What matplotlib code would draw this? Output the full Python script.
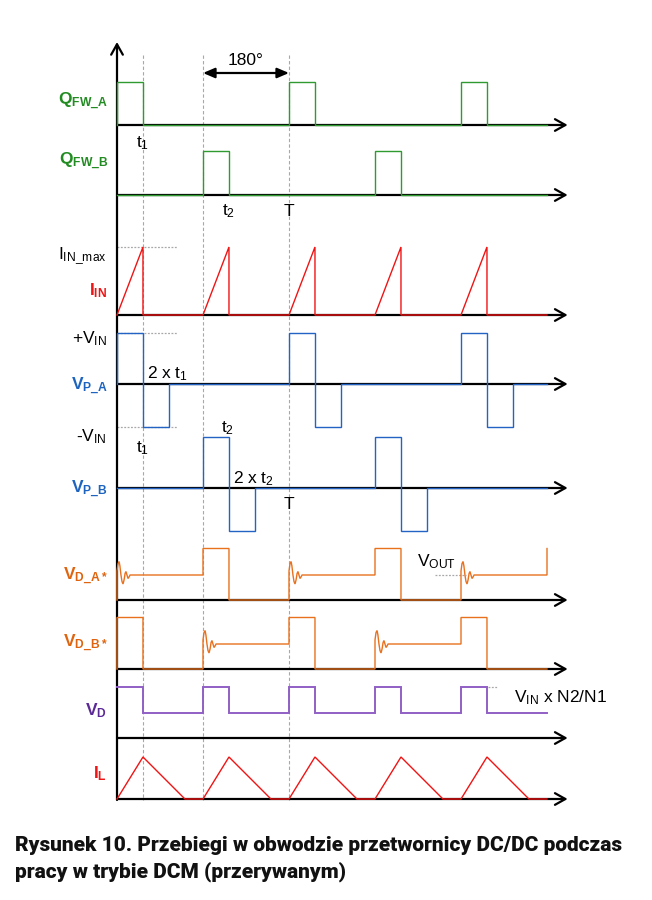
import numpy as np
import matplotlib
matplotlib.use('Agg')
import matplotlib.pyplot as plt

plt.rcParams['mathtext.fontset'] = 'custom'
plt.rcParams['mathtext.rm'] = 'Liberation Sans'
plt.rcParams['mathtext.it'] = 'Liberation Sans'
plt.rcParams['mathtext.bf'] = 'Liberation Sans:bold'
plt.rcParams['font.family'] = ['Liberation Sans', 'DejaVu Sans']

# ---------------- data (time in units of the switching period T) ----------------
t1 = 0.151                       # on-time t1 (= t2)
t_end = 2.5                      # end of drawn waveforms
axis_end = 2.62                  # end of time axes
qa_starts = [0.0, 1.0, 2.0]      # Q_FW_A on
qb_starts = [0.5, 1.5]           # Q_FW_B on
iin_starts = [0.0, 0.5, 1.0, 1.5, 2.0]
il_zero = 0.395                  # I_L returns to zero (relative to pulse start)
vp_pos, vp_neg = 1.0, -0.84      # +VIN / -VIN
vout = 1.0                       # V_OUT level
vd_high = 2.06                   # VIN x N2/N1 (relative to V_OUT)
ring_dt = [0, 0, 0.006, 0.012, 0.017, 0.023, 0.029, 0.035, 0.041, 0.047,
           0.052, 0.058, 0.064, 0.070, 0.076, 0.093]
ring_v = [0, 1.16, 1.46, 1.54, 1.36, 1.00, 0.74, 0.64, 0.80, 1.06,
          1.14, 1.00, 0.86, 0.92, 1.00, 1.00]
vda_events = [(0.0, 'ring'), (0.5, 'pulse'), (1.0, 'ring'), (1.5, 'pulse'),
              (2.0, 'ring'), (2.5, 'pulse')]
vdb_events = [(0.0, 'pulse'), (0.5, 'ring'), (1.0, 'pulse'), (1.5, 'ring'),
              (2.0, 'pulse')]

# ---------------- layout (pixel rows) ----------------
X0, XS = 117, 172   # pixel of t=0, pixels per period

def clip(ts, vs):
    ts = np.array(ts, float); vs = np.array(vs, float)
    m = ts <= t_end + 1e-9
    return ts[m], vs[m]

def pulse_train(starts, width, high):
    ts, vs = [0.0], [0.0]
    for s in starts:
        ts += [s, s, s + width, s + width]
        vs += [0, high, high, 0]
    ts.append(t_end); vs.append(0)
    return clip(ts, vs)

def ramps(starts, width):
    ts, vs = [0.0], [0.0]
    for s in starts:
        ts += [s, s + width, s + width]
        vs += [0, 1, 0]
    ts.append(t_end); vs.append(0)
    return clip(ts, vs)

def bipolar(starts, width):
    ts, vs = [0.0], [0.0]
    for s in starts:
        ts += [s, s, s + width, s + width, s + 2 * width, s + 2 * width]
        vs += [0, vp_pos, vp_pos, vp_neg, vp_neg, 0]
    ts.append(t_end); vs.append(0)
    return clip(ts, vs)

def diode(events):
    ts, vs = [], []
    for i, (s, kind) in enumerate(events):
        nxt = events[i + 1][0] if i + 1 < len(events) else t_end
        if kind == 'ring':
            ts += [s + d for d in ring_dt]; vs += list(ring_v)
            ts.append(nxt); vs.append(vout)
        else:
            ts += [s, s, s + t1, s + t1]
            vs += [vs[-1] if vs else 0, vd_high, vd_high, 0]
            if nxt > s + t1:
                ts.append(nxt); vs.append(0)
    return clip(ts, vs)

def vd_wave(starts):
    ts, vs = [], []
    for s in starts:
        ts += [s, s, s + t1, s + t1]
        vs += [vout, vd_high, vd_high, vout]
    ts.append(t_end); vs.append(vout)
    return np.array(ts[1:]), np.array(vs[1:])

def il_wave(starts):
    ts, vs = [0.0], [0.0]
    for s in starts:
        ts += [s, s + t1, s + il_zero]
        vs += [0, 1, 0]
    ts.append(t_end); vs.append(0)
    return np.array(ts), np.array(vs)

fig = plt.figure(figsize=(6.52, 9.0), dpi=100)
ax = fig.add_axes([0, 0, 1, 1])
ax.set_xlim(-X0 / XS, (652 - X0) / XS)
ax.set_ylim(900, 0)
ax.axis('off')

def px(x):
    return (x - X0) / XS

GREEN = '#2f9a2f'; GREEN_L = '#228b22'
RED = '#f01414'
BLUE = '#2263c4'; BLUE_L = '#1e64bf'
ORANGE = '#e8711e'; ORANGE_L = '#df6410'
PURPLE = '#9060c4'; PURPLE_L = '#5c2a96'
GRAY = '#a8a8a8'

# vertical dashed guides
for tg in [t1, 0.5, 1.0]:
    ax.plot([tg, tg], [55, 800], color=GRAY, lw=0.8, ls=(0, (3, 2)), zorder=1)

# channels: (baseline px, px per unit)
rows = {
    'qa': (125, 43), 'qb': (195, 44), 'iin': (315, 68),
    'vpa': (384, 51), 'vpb': (488, 51), 'vda': (600, 25),
    'vdb': (669, 25), 'vd': (738, 25), 'il': (799, 42),
}

arrow_kw = dict(arrowstyle='->,head_length=0.75,head_width=0.42', lw=1.6,
                color='black', shrinkA=0, shrinkB=0)
for key, (yb, sc) in rows.items():
    ax.annotate('', xy=(axis_end, yb), xytext=(0, yb), arrowprops=arrow_kw, zorder=2)
# vertical axis
ax.annotate('', xy=(0, 42), xytext=(0, 800), arrowprops=arrow_kw, zorder=2)

def draw(key, ts, vs, color, lw=1.0):
    yb, sc = rows[key]
    ax.plot(ts, yb - np.asarray(vs) * sc, color=color, lw=lw, zorder=3,
            solid_joinstyle='miter')

draw('qa', *pulse_train(qa_starts, t1, 1.0), GREEN)
draw('qb', *pulse_train(qb_starts, t1, 1.0), GREEN)
draw('iin', *ramps(iin_starts, t1), RED)
draw('vpa', *bipolar(qa_starts, t1), BLUE)
draw('vpb', *bipolar(qb_starts, t1), BLUE)
draw('vda', *diode(vda_events), ORANGE)
draw('vdb', *diode(vdb_events), ORANGE)
draw('vd', *vd_wave(iin_starts), PURPLE, lw=1.4)
draw('il', *il_wave(iin_starts), RED)

# dotted reference lines
ref_kw = dict(color=GRAY, lw=0.9, ls=(0, (1.5, 1.2)), zorder=1)
yb, sc = rows['iin']; ax.plot([0, px(177)], [yb - sc, yb - sc], **ref_kw)
yb, sc = rows['vpa']; ax.plot([0, px(177)], [yb - sc * vp_pos] * 2, **ref_kw)
ax.plot([0, px(177)], [yb - sc * vp_neg] * 2, **ref_kw)
yb, sc = rows['vda']; ax.plot([px(435), px(466)], [yb - sc * vout] * 2, **ref_kw)
yb, sc = rows['vd']; ax.plot([px(488), px(497)], [yb - sc * vd_high] * 2, **ref_kw)

# 180 degree arrow
ax.annotate('', xy=(1.0, 73), xytext=(0.5, 73),
            arrowprops=dict(arrowstyle='<|-|>,head_length=0.7,head_width=0.3',
                            lw=1.6, color='black', shrinkA=0, shrinkB=0))
ax.text(px(246), 65, '180°', ha='center', va='baseline', fontsize=12.5)

FS = 12.5
def lab(x, y, s, color='black', ha='right'):
    ax.text(px(x), y, s, ha=ha, va='baseline', fontsize=FS, color=color)

lab(108, 105, r'$\mathbf{Q}_{\mathbf{FW\_A}}$', GREEN_L)
lab(108, 165, r'$\mathbf{Q}_{\mathbf{FW\_B}}$', GREEN_L)
lab(107, 259, r'$\mathrm{I}_{\mathrm{IN\_max}}$')
lab(107, 295, r'$\mathbf{I}_{\mathbf{IN}}$', RED)
lab(107, 343, r'+$\mathrm{V}_{\mathrm{IN}}$')
lab(108, 390, r'$\mathbf{V}_{\mathbf{P\_A}}$', BLUE_L)
lab(107, 441, r'-$\mathrm{V}_{\mathrm{IN}}$')
lab(108, 493, r'$\mathbf{V}_{\mathbf{P\_B}}$', BLUE_L)
lab(108, 580, r'$\mathbf{V}_{\mathbf{D\_A*}}$', ORANGE_L)
lab(108, 647, r'$\mathbf{V}_{\mathbf{D\_B*}}$', ORANGE_L)
lab(107, 715, r'$\mathbf{V}_{\mathbf{D}}$', PURPLE_L)
lab(107, 778, r'$\mathbf{I}_{\mathbf{L}}$', RED)

lab(143, 147, r'$\mathrm{t}_{1}$', ha='center')
lab(229, 215, r'$\mathrm{t}_{2}$', ha='center')
lab(289, 216, 'T', ha='center')
lab(147, 378, r'$\mathrm{2\ x\ t}_{1}$', ha='left')
lab(143, 452, r'$\mathrm{t}_{1}$', ha='center')
lab(228, 432, r'$\mathrm{t}_{2}$', ha='center')
lab(233, 483, r'$\mathrm{2\ x\ t}_{2}$', ha='left')
lab(289, 509, 'T', ha='center')
lab(417, 566, r'$\mathrm{V}_{\mathrm{OUT}}$', ha='left')
lab(514, 702, r'$\mathrm{V}_{\mathrm{IN}}\mathrm{\ x\ N2/N1}$', ha='left')

# caption
cap_kw = dict(fontsize=15, fontweight='heavy', family='Roboto', color='#111111',
              va='baseline')
fig.text(15 / 652, 1 - 851 / 900,
         'Rysunek 10. Przebiegi w obwodzie przetwornicy DC/DC podczas', **cap_kw)
fig.text(15 / 652, 1 - 878 / 900, 'pracy w trybie DCM (przerywanym)', **cap_kw)

fig.savefig('out.png', dpi=100)
